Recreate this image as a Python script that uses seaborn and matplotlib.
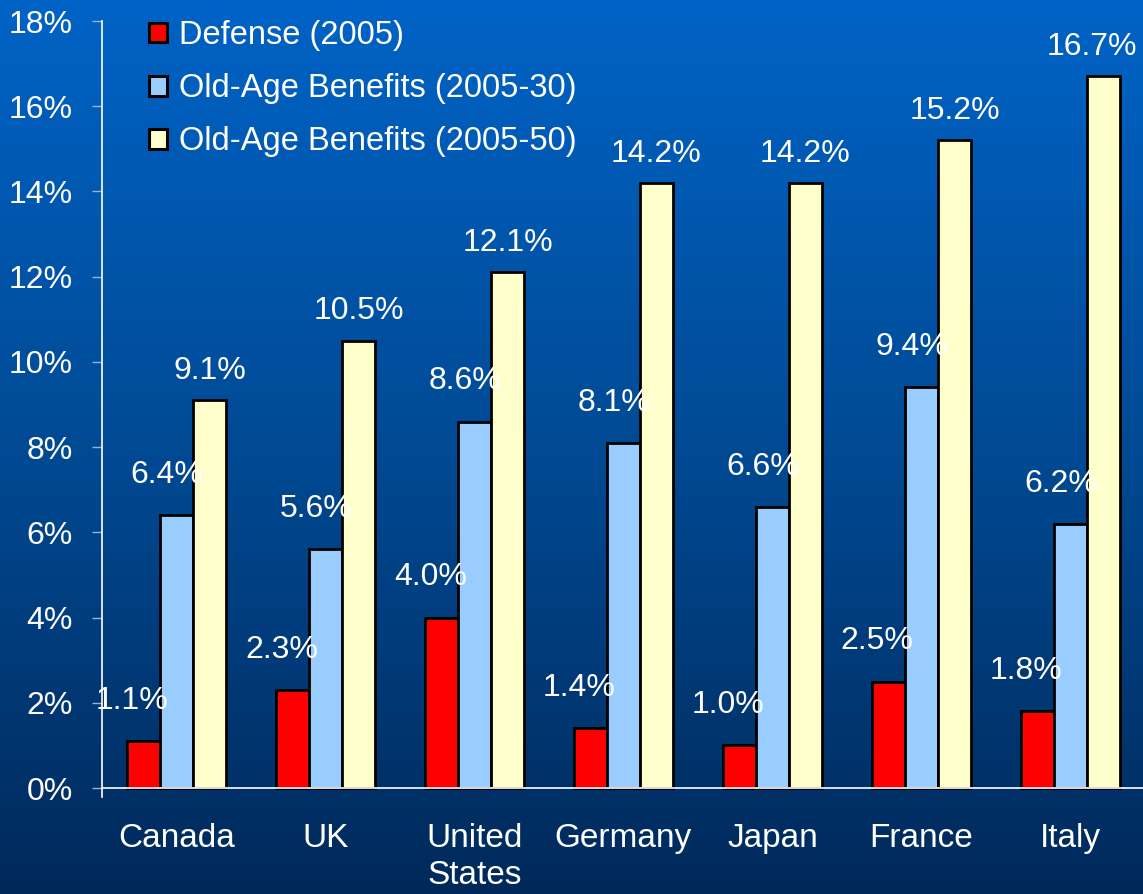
import numpy as np
import pandas as pd
import seaborn as sns
import matplotlib.pyplot as plt
from matplotlib.colors import LinearSegmentedColormap

countries = ['Canada', 'UK', 'United\nStates', 'Germany', 'Japan', 'France', 'Italy']
series = ['Defense (2005)', 'Old-Age Benefits (2005-30)', 'Old-Age Benefits (2005-50)']
defense = [1.1, 2.3, 4.0, 1.4, 1.0, 2.5, 1.8]
oldage_30 = [6.4, 5.6, 8.6, 8.1, 6.6, 9.4, 6.2]
oldage_50 = [9.1, 10.5, 12.1, 14.2, 14.2, 15.2, 16.7]
colors = ['#ff0000', '#99ccff', '#ffffcc']

df = pd.DataFrame({
    'country': countries * 3,
    'series': [s for s in series for _ in countries],
    'value': defense + oldage_30 + oldage_50,
})

sns.set_style('white')
plt.rcParams['font.family'] = ['Liberation Sans', 'DejaVu Sans']

fig = plt.figure(figsize=(11.43, 8.94), dpi=100)

# gradient background
bg = fig.add_axes([0, 0, 1, 1], zorder=-10)
grad = np.linspace(0, 1, 256).reshape(-1, 1)
cmap = LinearSegmentedColormap.from_list('bg', ['#0063c6', '#004a94', '#00295a'])
bg.imshow(grad, aspect='auto', cmap=cmap, extent=[0, 1, 0, 1])
bg.axis('off')

ax = fig.add_axes([0.0892, 0.109, 0.9125, 0.8675])
ax.patch.set_alpha(0)
sns.barplot(data=df, x='country', y='value', hue='series', hue_order=series,
            palette=colors, width=0.665, edgecolor='black', linewidth=2,
            saturation=1, ax=ax)

ax.set_xlim(-0.5, 6.5)
ax.set_ylim(-0.2, 18)
ax.set_yticks(range(0, 19, 2))
ax.set_yticklabels([f'{t}%' for t in range(0, 19, 2)])
ax.set_xlabel('')
ax.set_ylabel('')

for s in ['top', 'right']:
    ax.spines[s].set_visible(False)
ax.spines['left'].set_color('white')
ax.spines['bottom'].set_color('white')
ax.spines['bottom'].set_position(('data', 0))
ax.spines['left'].set_linewidth(1.2)
ax.spines['bottom'].set_linewidth(1.2)

ax.tick_params(axis='y', colors='#9fb0d0', labelcolor='white', labelsize=23,
               length=7, width=1, direction='out', pad=14, left=True)
ax.tick_params(axis='x', labelcolor='white', labelsize=24, length=0, pad=25)
for t in ax.get_xticklabels():
    t.set_linespacing(1.28)

# value labels
offsets = [(-8, 29), (-7, 29), (0, 21)]
for cont, (dx, dy) in zip(ax.containers, offsets):
    for bar in cont:
        h = bar.get_height()
        xc = bar.get_x() + bar.get_width() / 2
        if xc > 6.2:
            # keep the last label inside the figure
            dx = -8
        ax.annotate(f'{h:.1f}%', (xc, h),
                    xytext=(dx, dy), textcoords='offset points',
                    ha='center', va='center', color='white', fontsize=23)

leg = ax.legend(loc='upper left', bbox_to_anchor=(0.033, 1.018), frameon=False,
                fontsize=23.5, handlelength=0.55, handleheight=0.55,
                handletextpad=0.35, labelspacing=0.68, borderaxespad=0)
for t in leg.get_texts():
    t.set_color('white')
for p in leg.get_patches():
    p.set_linewidth(2.2)

fig.savefig('out.png', dpi=100)
